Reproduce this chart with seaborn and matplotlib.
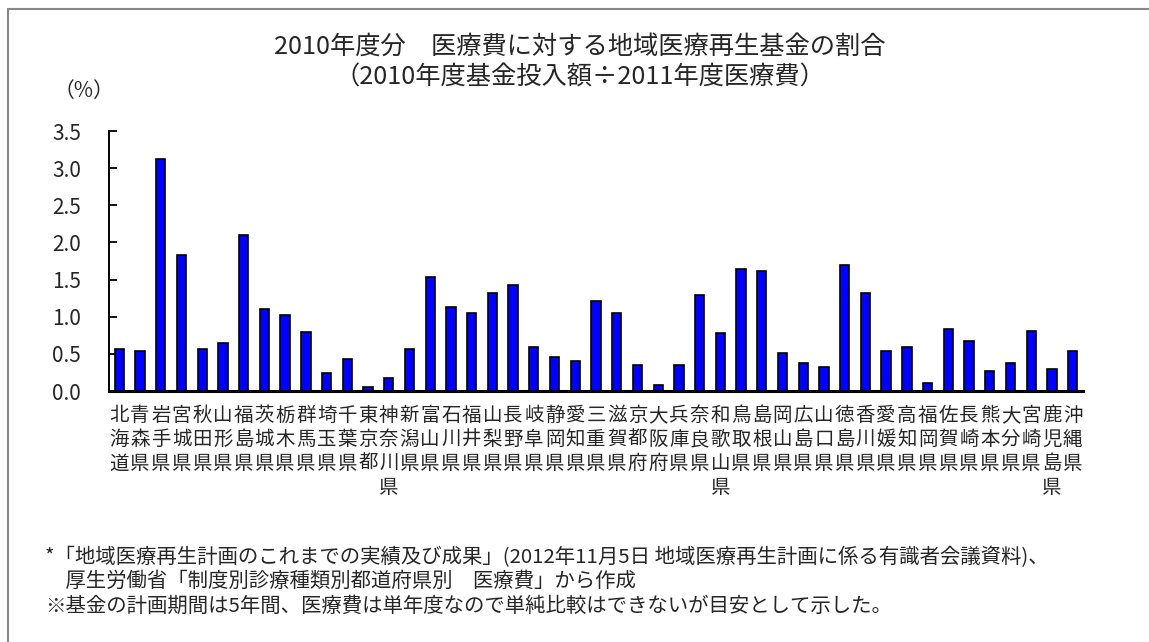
import matplotlib
matplotlib.use("Agg")
import matplotlib.pyplot as plt
import seaborn as sns
import pandas as pd
from matplotlib.lines import Line2D
from matplotlib.ticker import FixedLocator, FormatStrFormatter

prefectures = ["北海道", "青森県", "岩手県", "宮城県", "秋田県", "山形県", "福島県",
               "茨城県", "栃木県", "群馬県", "埼玉県", "千葉県", "東京都", "神奈川県",
               "新潟県", "富山県", "石川県", "福井県", "山梨県", "長野県", "岐阜県",
               "静岡県", "愛知県", "三重県", "滋賀県", "京都府", "大阪府", "兵庫県",
               "奈良県", "和歌山県", "鳥取県", "島根県", "岡山県", "広島県", "山口県",
               "徳島県", "香川県", "愛媛県", "高知県", "福岡県", "佐賀県", "長崎県",
               "熊本県", "大分県", "宮崎県", "鹿児島県", "沖縄県"]
ratio_pct = [0.56, 0.54, 3.12, 1.83, 0.56, 0.65, 2.10,
             1.10, 1.02, 0.80, 0.24, 0.43, 0.05, 0.18,
             0.56, 1.54, 1.13, 1.05, 1.32, 1.43, 0.59,
             0.46, 0.40, 1.21, 1.05, 0.35, 0.08, 0.35,
             1.29, 0.78, 1.64, 1.62, 0.51, 0.38, 0.32,
             1.70, 1.32, 0.54, 0.59, 0.11, 0.84, 0.67,
             0.27, 0.38, 0.81, 0.30, 0.54]
y_ticks = [0.0, 0.5, 1.0, 1.5, 2.0, 2.5, 3.0, 3.5]

title_text = "2010年度分　医療費に対する地域医療再生基金の割合\n（2010年度基金投入額÷2011年度医療費）"
unit_text = "（%）"
notes = ["*「地域医療再生計画のこれまでの実績及び成果」(2012年11月5日 地域医療再生計画に係る有識者会議資料)、",
         "　厚生労働省「制度別診療種類別都道府県別　医療費」から作成",
         "※基金の計画期間は5年間、医療費は単年度なので単純比較はできないが目安として示した。"]

sns.set_style("white")
plt.rcParams["font.family"] = ["Noto Sans CJK JP", "DejaVu Sans"]

df = pd.DataFrame({"pref": prefectures, "ratio": ratio_pct})

W, H = 1149, 642
fig = plt.figure(figsize=(W / 100, H / 100), dpi=100)
ax = fig.add_axes([109 / W, 1 - 391 / H, (1083 - 109) / W, (391 - 131) / H])

sns.barplot(data=df, x="pref", y="ratio", color="#0000FF", saturation=1,
            edgecolor="black", linewidth=1.2, width=0.45, ax=ax)

ax.set_xlim(-0.5, len(prefectures) - 0.5)
ax.set_ylim(0, 3.5)
ax.set_yticks(y_ticks)
ax.yaxis.set_major_formatter(FormatStrFormatter("%.1f"))
ax.set_xticks(range(len(prefectures)))
ax.set_xticklabels(["\n".join(p) for p in prefectures], fontsize=14,
                   linespacing=1.2, va="top")
ax.xaxis.set_minor_locator(FixedLocator([i + 0.5 for i in range(-1, len(prefectures))]))
ax.tick_params(axis="x", which="major", length=0, pad=10)
ax.tick_params(axis="x", which="minor", direction="in", length=4, width=1.5, color="black")
ax.tick_params(axis="y", direction="in", length=6, width=1.3, color="black",
               labelsize=15, pad=20, left=True)
ax.set_xlabel("")
ax.set_ylabel("")
for s in ["top", "right"]:
    ax.spines[s].set_visible(False)
ax.spines["left"].set_color("black")
ax.spines["left"].set_linewidth(1.4)
ax.spines["bottom"].set_color("black")
ax.spines["bottom"].set_linewidth(2.2)

fig.text(580 / W, 1 - 62 / H, title_text, ha="center", va="center",
         fontsize=18.2, linespacing=1.25)
fig.text(84 / W, 1 - 91 / H, unit_text, ha="center", va="center", fontsize=15)
for t, yy in zip(notes, [557, 581, 606]):
    fig.text(45 / W, 1 - yy / H, t, ha="left", va="center", fontsize=14.7)

fig.add_artist(Line2D([7.5 / W, 7.5 / W], [0, 1 - 8.5 / H], transform=fig.transFigure,
                      color="#888888", linewidth=1.5))
fig.add_artist(Line2D([7.5 / W, 1], [1 - 8.5 / H, 1 - 8.5 / H], transform=fig.transFigure,
                      color="#888888", linewidth=1.5))

fig.savefig("out.png", dpi=100)
